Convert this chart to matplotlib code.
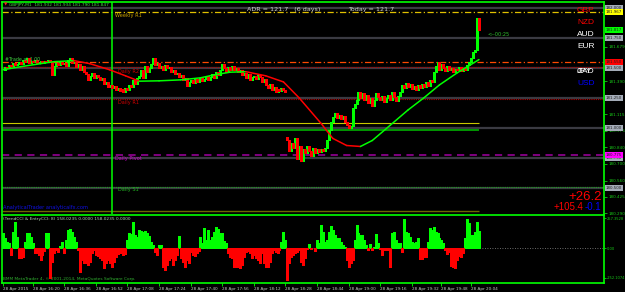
import numpy as np
import matplotlib
matplotlib.use("Agg")
import matplotlib.pyplot as plt

W, H = 625, 292

# GBPJPY M1 closes, one per bar (open = previous close)
closes = [
    181.485, 181.511, 181.502, 181.527, 181.519, 181.544, 181.527, 181.536, 181.553, 181.536,
    181.570, 181.553, 181.586, 181.544, 181.561, 181.553, 181.570, 181.544, 181.553, 181.561,
    181.544, 181.561, 181.553, 181.570, 181.553, 181.443, 181.519, 181.544, 181.527, 181.553,
    181.536, 181.544, 181.519, 181.570, 181.586, 181.544, 181.553, 181.511, 181.536, 181.485,
    181.519, 181.469, 181.452, 181.401, 181.435, 181.460, 181.418, 181.443, 181.426, 181.401,
    181.418, 181.367, 181.384, 181.342, 181.359, 181.334, 181.351, 181.317, 181.334, 181.309,
    181.325, 181.300, 181.334, 181.317, 181.359, 181.342, 181.401, 181.367, 181.418, 181.435,
    181.485, 181.418, 181.519, 181.469, 181.502, 181.536, 181.586, 181.527, 181.544, 181.502,
    181.519, 181.485, 181.527, 181.502, 181.511, 181.469, 181.485, 181.452, 181.460, 181.426,
    181.443, 181.401, 181.418, 181.351, 181.384, 181.401, 181.376, 181.410, 181.384, 181.401,
    181.418, 181.393, 181.410, 181.435, 181.401, 181.426, 181.452, 181.418, 181.469, 181.443,
    181.485, 181.536, 181.502, 181.469, 181.511, 181.485, 181.519, 181.485, 181.502, 181.469,
    181.485, 181.443, 181.460, 181.418, 181.452, 181.401, 181.426, 181.435, 181.410, 181.443,
    181.426, 181.384, 181.410, 181.359, 181.334, 181.367, 181.317, 181.342, 181.300, 181.325,
    181.309, 181.334, 181.317, 181.300, 180.896, 180.812, 180.879, 180.837, 180.913, 180.745,
    180.854, 180.728, 180.829, 180.795, 180.854, 180.812, 180.770, 180.837, 180.795, 180.829,
    180.804, 180.829, 180.812, 180.837, 180.896, 180.980, 181.048, 181.090, 181.123, 181.081,
    181.107, 181.073, 181.098, 181.048, 181.022, 180.997, 181.014, 181.165, 181.199, 181.233,
    181.300, 181.250, 181.292, 181.233, 181.275, 181.208, 181.250, 181.182, 181.233, 181.292,
    181.258, 181.233, 181.267, 181.216, 181.250, 181.275, 181.233, 181.300, 181.258, 181.224,
    181.267, 181.300, 181.359, 181.334, 181.376, 181.342, 181.367, 181.325, 181.351, 181.317,
    181.359, 181.334, 181.367, 181.342, 181.384, 181.351, 181.401, 181.384, 181.469, 181.519,
    181.553, 181.485, 181.536, 181.502, 181.477, 181.519, 181.485, 181.502, 181.469, 181.494,
    181.485, 181.511, 181.477, 181.502, 181.485, 181.527, 181.553, 181.586, 181.637, 181.654,
    181.917, 181.817,
]
gap_opens = {144: 180.921}

# moving average (red falling / green rising)
ma_bar = [0, 9, 19, 26, 36, 44, 54, 62, 69, 79, 90, 100, 107, 115, 123, 133, 142, 150,
          161, 167, 174, 181, 187, 196, 205, 213, 221, 230, 236, 241]
ma_val = [181.485, 181.511, 181.536, 181.553, 181.561, 181.536, 181.485, 181.435, 181.390,
          181.393, 181.401, 181.418, 181.443, 181.465, 181.469, 181.435, 181.384, 181.250,
          181.039, 180.913, 180.854, 180.846, 180.896, 181.022, 181.149, 181.250, 181.359,
          181.460, 181.519, 181.570]

# TrendCCI histogram, one per bar
cci = [
    128, 85, 51, 43, -60, 136, 221, 100, -85, -85,
    -70, 51, 128, 128, 94, 43, -43, -43, -60, -100,
    -60, -25, 128, 128, -255, -120, -43, -17, -34, 17,
    51, -43, 68, 153, 162, 136, 94, 51, -17, -204,
    -102, -128, -128, -145, -119, -43, -17, -60, -68, -85,
    -102, -170, -128, -102, -128, -162, -119, -77, -51, -34,
    -43, -60, -51, 68, 128, 119, 221, 110, 94, 153,
    145, 136, 145, 128, 102, 51, 26, -34, -60, 26,
    26, -162, -187, -145, -102, -85, -145, -102, -60, 102,
    -85, -119, -162, -102, -128, -34, -60, -68, -43, -25,
    94, 43, 170, 68, 153, 68, 94, 136, 179, 162,
    128, 128, 60, 43, -43, -77, -85, -162, -162, -162,
    -170, -145, -77, -34, -25, -43, -85, -60, -85, -102,
    -128, -40, -128, -162, -162, -119, -43, -17, -34, -43,
    -17, 51, 136, 68, -272, -128, -77, -60, -43, -34,
    -17, -119, -145, -85, -8, 34, -10, 5, -25, 68,
    43, 196, 136, 51, 68, 136, 187, 153, 110, 85,
    85, 51, 26, 9, -102, -162, -128, -102, 68, 196,
    128, 110, 110, 68, 26, -17, 34, -17, 9, 119,
    43, -8, -60, -17, -17, -17, -162, 128, 136, 68,
    43, 43, -34, 247, 136, 128, 94, 51, 43, 51,
    85, -94, -94, -77, -77, 51, 170, 153, 179, 136,
    128, 85, 68, 43, -17, -51, -34, -153, -162, -170,
    -102, -68, -77, -43, 85, 247, 213, 110, 110, 136,
    221, 145,
]

price_ticks = [181.679, 181.390, 181.115, 180.975, 180.840,
               180.700, 180.560, 180.425, 180.290]
round_levels = [182.000, 181.750, 181.500, 181.250, 181.000, 180.750, 180.500]
weekly_r1 = 181.967
adr_high = 181.550
daily_r2 = 181.508
daily_r1 = 181.242
trade_lvl = 181.042
entry_lvl = 180.983
daily_pivot = 180.775
daily_s1 = 180.508
low_lvl = 180.308
bid = 181.817
session_bar = 55

time_bars = [0, 15, 31, 47, 63, 79, 95, 111, 127, 143, 159, 175, 191, 207, 222, 237]
time_labels = ["28 Apr 2015", "28 Apr 16:20", "28 Apr 16:36", "28 Apr 16:52",
               "28 Apr 17:08", "28 Apr 17:24", "28 Apr 17:40", "28 Apr 17:56",
               "28 Apr 18:12", "28 Apr 18:28", "28 Apr 18:44", "28 Apr 19:00",
               "28 Apr 19:16", "28 Apr 19:32", "28 Apr 19:48", "28 Apr 20:04"]
cci_ticks = [257.3528, 0.0, -252.1074]
cci_labels = ["257.3528", "0.00", "-252.1074"]

LIME = "#00ff00"
RED = "#ff0000"
AXG = "#18c818"

fig = plt.figure(figsize=(W / 100, H / 100), dpi=100, facecolor="black")
ax = fig.add_axes([2 / W, 1 - 214 / H, 602 / W, 212.5 / H], facecolor="black")
ax2 = fig.add_axes([2 / W, 1 - 282.5 / H, 602 / W, 68 / H], facecolor="black")


def put(x, y, s, **kw):
    kw.setdefault("va", "center")
    fig.text(x / W, 1 - y / H, s, **kw)


# ---- main panel ----
c = np.array(closes)
o = np.r_[c[0], c[:-1]]
for k, v in gap_opens.items():
    o[k] = v
bars = np.arange(len(c))

for lv in round_levels:
    ax.axhline(lv, color="#3a3a42", lw=1.6, zorder=1)
ax.axhline(weekly_r1, color="#e0c000", lw=0.9, ls=(0, (5, 2, 1, 2)), zorder=2)
ax.axhline(adr_high, color="#ff4a00", lw=0.9, ls=(0, (5, 2, 1, 2)), zorder=2)
ax.axhline(daily_r2, color="#b00000", lw=0.8, ls=(0, (1, 1)), zorder=2)
ax.axhline(daily_r1, color="#b00000", lw=0.8, ls=(0, (1, 1)), zorder=2)
ax.axhline(daily_pivot, color="#8a008a", lw=1.3, ls=(0, (4, 3)), zorder=2)
ax.axhline(daily_s1, color="#20a020", lw=0.8, ls=(0, (1, 1)), zorder=2)
ax.hlines(trade_lvl, -0.5, bars[-1], color="#c8c800", lw=0.8, zorder=2)
ax.hlines(entry_lvl, -0.5, bars[-1], color="#00c000", lw=1.1, zorder=2)
ax.hlines(low_lvl, -0.5, bars[-1], color="#6a6a00", lw=1.0, zorder=2)
ax.axvline(session_bar, color=LIME, lw=1.1, zorder=2)

up = c >= o
ax.vlines(bars[up], o[up], c[up], color=LIME, lw=1.0, zorder=3, antialiased=False)
ax.vlines(bars[~up], o[~up], c[~up], color=RED, lw=1.0, zorder=3, antialiased=False)

for i in range(len(ma_bar) - 1):
    col = LIME if ma_val[i + 1] >= ma_val[i] else RED
    ax.plot(ma_bar[i:i + 2], ma_val[i:i + 2], color=col, lw=1.1, zorder=4,
            solid_capstyle="round")

ax.set_xlim(-0.5, 304.3)
ax.set_ylim(180.2833, 182.054)
ax.yaxis.tick_right()
ax.set_yticks(price_ticks)
ax.set_yticklabels([f"{t:.3f}" for t in price_ticks])
ax.tick_params(axis="y", colors=AXG, labelsize=3.0, length=2, width=0.6, pad=1)
ax.tick_params(axis="x", bottom=False, labelbottom=False)
for s in ax.spines.values():
    s.set_color(LIME)
    s.set_linewidth(1.2)
ax.spines["bottom"].set_visible(False)

# price boxes on the right scale
yt = ax.get_yaxis_transform()
boxes = [(lv, "#a4acb8") for lv in round_levels] + [
    (weekly_r1, "#ffff00"), (bid, LIME), (adr_high, RED), (daily_pivot, "#ff00ff")]
for lv, fc in boxes:
    ax.text(1.003, lv, f"{lv:.3f}", transform=yt, fontsize=2.9, color="#202020",
            va="center", ha="left", clip_on=False, zorder=6,
            bbox=dict(boxstyle="square,pad=0.25", fc=fc, ec="none"))

# ---- indicator panel ----
v = np.array(cci, dtype=float)
pos = v >= 0
ax2.axhline(0, color="#909090", lw=0.6, ls=(0, (1, 2)), zorder=1)
ax2.vlines(bars[pos], 0, v[pos], color=LIME, lw=0.75, antialiased=False, zorder=2)
ax2.vlines(bars[~pos], 0, v[~pos], color=RED, lw=0.75, antialiased=False, zorder=2)
ax2.set_xlim(-0.5, 304.3)
ax2.set_ylim(-290.7, 287.3)
ax2.yaxis.tick_right()
ax2.set_yticks(cci_ticks)
ax2.set_yticklabels(cci_labels)
ax2.tick_params(axis="y", colors=AXG, labelsize=2.6, length=1.5, width=0.6, pad=0.6)
ax2.set_xticks(time_bars)
ax2.set_xticklabels(time_labels, ha="left")
ax2.tick_params(axis="x", color=LIME, labelcolor="#c8c8c8", labelsize=3.0,
                length=2, width=0.6, pad=1.5)
for s in ax2.spines.values():
    s.set_color(LIME)
    s.set_linewidth(1.2)

# ---- texts ----
put(4, 5, "▼", color="#ff2020", fontsize=3.2)
put(9, 5, "GBPJPY,M1  181.932 181.934 181.790 181.847", color="#40e040", fontsize=3.1)
put(247, 10, "ADR = 121.7   (6 days)", color="#d0d0d0", fontsize=4.6)
put(348, 10, "Today = 121.7", color="#d0d0d0", fontsize=4.6)
put(115, 15, "Weekly R1", color="#c8a000", fontsize=3.6)
put(5, 60, "#Trade at 1.00", color="#40d040", fontsize=3.4)
put(118, 71, "Daily R2", color="#d00000", fontsize=3.6)
put(118, 102, "Daily R1", color="#d00000", fontsize=3.6)
put(115, 158, "Daily Pivot", color="#d000d0", fontsize=3.6)
put(118, 190, "Daily S1", color="#20b020", fontsize=3.6)
put(487, 34, "<--00:25", color="#30c030", fontsize=3.6)
put(3, 207, "AnalyticalTrader analyticalfx.com", color="#1010e0", fontsize=3.7)

cur = [("GBP", RED, 10.5), ("NZD", RED, 23), ("AUD", "#ffffff", 35),
       ("EUR", "#ffffff", 47), ("JPY", "#ffffff", 71.5), ("CAD", "#ffffff", 71.5),
       ("USD", "#0000ff", 83.5)]
for name, col, yy in cur:
    put(577, yy, name, color=col, fontsize=6, family="Liberation Sans")

put(602, 197, "+26.2", color=RED, fontsize=9.5, ha="right", family="Liberation Sans")
put(583, 207, "+105.4", color=RED, fontsize=7, ha="right", family="Liberation Sans")
put(601, 207, "-0.1", color="#0000ff", fontsize=7, ha="right", family="Liberation Sans")

put(3, 219, "(TrendCCI & EntryCCI: 8) 158.0235 0.0000 158.0235 0.0000",
    color="#b8d8b8", fontsize=3.1)
put(3, 279, "BMM MetaTrader 4, © 2001-2014, MetaQuotes Software Corp.",
    color="#30b030", fontsize=3.1)

fig.savefig("out.png", dpi=100, facecolor="black")
